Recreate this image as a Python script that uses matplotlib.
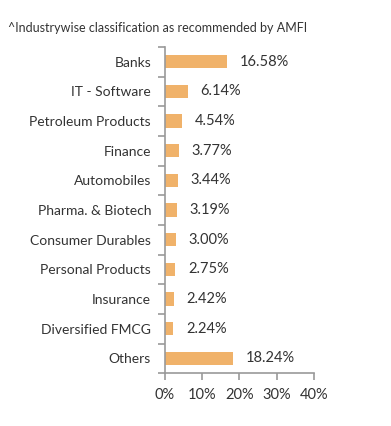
import matplotlib as mpl
mpl.use('Agg')
from matplotlib import pyplot as plt
import numpy as np

sectors = ['Banks', 'IT - Software', 'Petroleum Products', 'Finance', 'Automobiles',
           'Pharma. & Biotech', 'Consumer Durables', 'Personal Products', 'Insurance',
           'Diversified FMCG', 'Others']
weights = [16.58, 6.14, 4.54, 3.77, 3.44, 3.19, 3.00, 2.75, 2.42, 2.24, 18.24]
xticks = [0, 10, 20, 30, 40]

plt.rcParams['font.family'] = ['Lato', 'DejaVu Sans']

fig = plt.figure(figsize=(3.91, 4.26), dpi=100)
ax = fig.add_axes([0.422, 0.124, 0.381, 0.766])

y = np.arange(len(sectors))
ax.barh(y, weights, height=0.45, color='#F0B26A')
for yi, w in zip(y, weights):
    ax.text(w + 3.4, yi, f'{w:.2f}%', va='center', ha='left', fontsize=10.5, color='#333333')

ax.set_yticks(y)
ax.set_yticklabels(sectors, fontsize=10, color='#333333')
ax.set_yticks(np.arange(-0.5, len(sectors)), minor=True)
ax.tick_params(axis='y', which='major', length=0, pad=10)
ax.tick_params(axis='y', which='minor', length=5, color='#999999', width=1.2)
ax.set_ylim(len(sectors) - 0.5, -0.5)

ax.set_xlim(0, 40)
ax.set_xticks(xticks)
ax.set_xticklabels([f'{t}%' for t in xticks], fontsize=10.5, color='#333333')
ax.tick_params(axis='x', length=5, color='#999999', width=1.2, pad=6)

for s in ['top', 'right']:
    ax.spines[s].set_visible(False)
for s in ['left', 'bottom']:
    ax.spines[s].set_color('#999999')
    ax.spines[s].set_linewidth(1.2)

fig.text(8 / 391, 1 - 28 / 426, '^Industrywise classification as recommended by AMFI',
         fontsize=9, color='#333333', va='center', ha='left')

fig.savefig('out.png', dpi=100)
